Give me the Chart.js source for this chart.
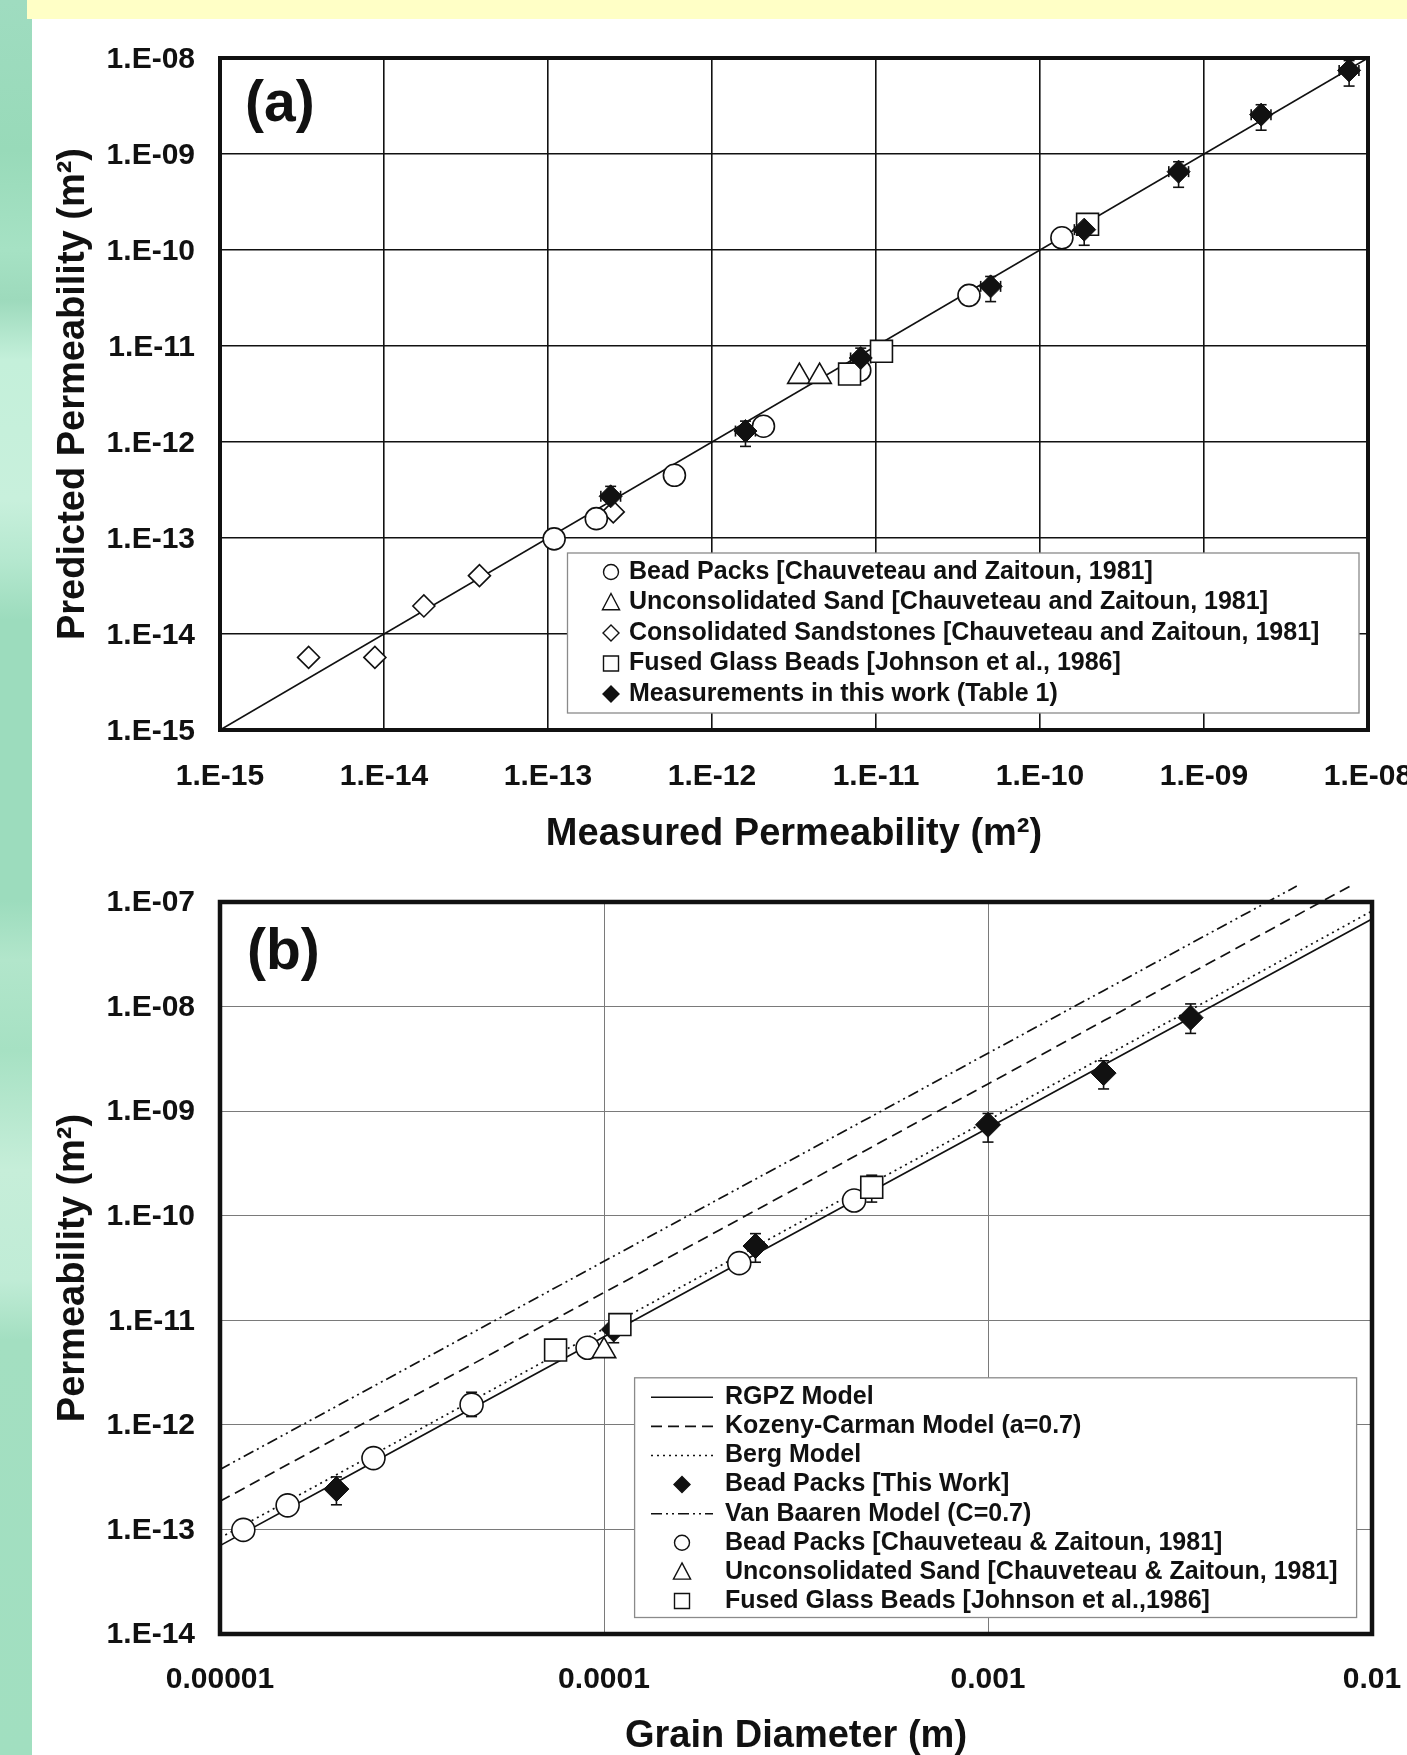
<!DOCTYPE html>
<html>
<head>
<meta charset="utf-8">
<script src="https://cdn.jsdelivr.net/npm/chart.js@4.4.1/dist/chart.umd.min.js"></script>
<style>
  html, body { margin: 0; padding: 0; background: #fff; }
  body { width: 1407px; height: 1755px; overflow: hidden; position: relative; }
  #strip {
    position: absolute; left: 0; top: 0; width: 32px; height: 1755px;
    background: linear-gradient(to bottom, #9fdcc0 0px, #98dab9 150px, #a6e2c4 250px, #9ddabc 300px,
      #c4f0da 360px, #c8f0dc 500px, #b5e8cf 560px, #9cdcbd 620px, #9cdcbd 900px, #b2e6cb 960px,
      #a6e1c3 1050px, #c6eed9 1170px, #c0ecd6 1280px, #a3dfc1 1340px, #a1dfc0 1755px);
  }
  #band { position: absolute; left: 27px; top: 0; width: 1380px; height: 19px; background: #ffffc6; }
  canvas { position: absolute; left: 0; }
  #chartA { top: 20px; }
  #chartB { top: 880px; }
</style>
</head>
<body>
<div id="strip"></div>
<div id="band"></div>
<canvas id="chartA" width="1407" height="860"></canvas>
<canvas id="chartB" width="1407" height="900"></canvas>
<script>
// ---- panel (a): predicted vs measured permeability (m^2) ----
const decadesA = [1e-15, 1e-14, 1e-13, 1e-12, 1e-11, 1e-10, 1e-9, 1e-8];
const tickLabelsA = ['1.E-15', '1.E-14', '1.E-13', '1.E-12', '1.E-11', '1.E-10', '1.E-09', '1.E-08'];

const oneToOneX = [1e-15, 1e-8];
const oneToOneY = [1e-15, 1e-8];

const beadX = [1.09e-13, 1.97e-13, 5.9e-13, 2.06e-12, 7.96e-12, 3.69e-11, 1.36e-10];
const beadY = [9.8e-14, 1.59e-13, 4.5e-13, 1.46e-12, 5.57e-12, 3.37e-11, 1.34e-10];
const sandX = [3.41e-12, 4.53e-12];
const sandY = [4.8e-12, 4.8e-12];
const stoneX = [3.47e-15, 8.8e-15, 1.75e-14, 3.82e-14, 2.5e-13];
const stoneY = [5.7e-15, 5.7e-15, 1.96e-14, 4.05e-14, 1.87e-13];
const fusedX = [6.9e-12, 1.08e-11, 1.95e-10];
const fusedY = [5.1e-12, 8.8e-12, 1.85e-10];
const measX = [2.41e-13, 1.6e-12, 8.07e-12, 5.0e-11, 1.86e-10, 7.0e-10, 2.23e-9, 7.67e-9];
const measY = [2.72e-13, 1.3e-12, 7.5e-12, 4.18e-11, 1.63e-10, 6.55e-10, 2.57e-9, 7.43e-9];
const measYLo = [1.88e-13, 9.0e-13, 5.2e-12, 2.9e-11, 1.12e-10, 4.5e-10, 1.77e-9, 5.1e-9];
const measYHi = [3.45e-13, 1.65e-12, 9.5e-12, 5.3e-11, 2.07e-10, 8.3e-10, 3.26e-9, 9.4e-9];
const measXLo = [2.1e-13, 1.39e-12, 7.0e-12, 4.35e-11, 1.62e-10, 6.1e-10, 1.94e-9, 6.67e-9];
const measXHi = [2.77e-13, 1.84e-12, 9.3e-12, 5.75e-11, 2.14e-10, 8.05e-10, 2.56e-9, 8.8e-9];

// ---- panel (b): permeability vs grain diameter ----
const decadesBy = [1e-14, 1e-13, 1e-12, 1e-11, 1e-10, 1e-9, 1e-8, 1e-7];
const tickLabelsBy = ['1.E-14', '1.E-13', '1.E-12', '1.E-11', '1.E-10', '1.E-09', '1.E-08', '1.E-07'];
const decadesBx = [1e-5, 1e-4, 1e-3, 1e-2];
const tickLabelsBx = ['0.00001', '0.0001', '0.001', '0.01'];

const modelD = [1e-5, 2e-5, 5e-5, 1e-4, 2e-4, 5e-4, 1e-3, 2e-3, 5e-3, 1e-2];
const rgpzK = [7.0e-14, 2.8e-13, 1.75e-12, 6.97e-12, 2.78e-11, 1.73e-10, 6.9e-10, 2.76e-9, 1.72e-8, 6.86e-8];
const bergK = [8.3e-14, 3.3e-13, 2.07e-12, 8.3e-12, 3.3e-11, 2.06e-10, 8.2e-10, 3.3e-9, 2.04e-8, 8.2e-8];
const kozenyD = [1e-5, 2e-5, 5e-5, 1e-4, 2e-4, 5e-4, 1e-3, 2e-3, 8.77e-3];
const kozenyK = [1.86e-13, 7.4e-13, 4.6e-12, 1.84e-11, 7.3e-11, 4.57e-10, 1.82e-9, 7.3e-9, 1.42e-7];
const baarenD = [1e-5, 2e-5, 5e-5, 1e-4, 2e-4, 5e-4, 1e-3, 2e-3, 6.37e-3];
const baarenK = [3.75e-13, 1.49e-12, 9.2e-12, 3.66e-11, 1.46e-10, 9.0e-10, 3.58e-9, 1.42e-8, 1.42e-7];

const thisD = [2.01e-5, 1.06e-4, 2.48e-4, 1.0e-3, 2.0e-3, 3.37e-3];
const thisK = [2.43e-13, 8.17e-12, 5.13e-11, 7.41e-10, 2.31e-9, 7.83e-9];
const thisKLo = [1.72e-13, 6.1e-12, 3.59e-11, 5.06e-10, 1.63e-9, 5.54e-9];
const thisKHi = [3.18e-13, 1.0e-11, 6.74e-11, 9.5e-10, 3.03e-9, 1.06e-8];
const chauD = [1.15e-5, 1.50e-5, 2.51e-5, 4.52e-5, 9.06e-5, 2.25e-4, 4.48e-4];
const chauK = [9.9e-14, 1.70e-13, 4.81e-13, 1.56e-12, 5.47e-12, 3.52e-11, 1.40e-10];
const chauKLo = [null, null, null, 1.2e-12, null, null, null];
const chauKHi = [null, null, null, 2.05e-12, null, null, null];
const unconsD = [1.0e-4];
const unconsK = [5.1e-12];
const glassD = [7.48e-5, 1.10e-4, 4.98e-4];
const glassK = [5.19e-12, 9.1e-12, 1.87e-10];
const glassKLo = [null, null, 1.35e-10];
const glassKHi = [null, null, 2.44e-10];

const FONT = "'Liberation Sans', Arial, sans-serif";
const INK = '#111';
Chart.defaults.font.family = FONT;
Chart.defaults.font.weight = 'bold';
Chart.defaults.color = INK;

const pts = (xs, ys) => xs.map((x, i) => ({ x, y: ys[i] }));

function drawMarker(ctx, style, x, y, r) {
  ctx.beginPath();
  if (style === 'circle') ctx.arc(x, y, r, 0, Math.PI * 2);
  else if (style === 'rect') ctx.rect(x - r, y - r, 2 * r, 2 * r);
  else if (style === 'rectRot') { ctx.moveTo(x, y - r); ctx.lineTo(x + r, y); ctx.lineTo(x, y + r); ctx.lineTo(x - r, y); ctx.closePath(); }
  else if (style === 'triangle') { ctx.moveTo(x, y - r); ctx.lineTo(x + r * 0.95, y + r * 0.8); ctx.lineTo(x - r * 0.95, y + r * 0.8); ctx.closePath(); }
}

// thick box round the plot area, drawn over the grid
const frame = {
  id: 'frame',
  beforeDatasetsDraw(chart, args, o) {
    const { ctx, chartArea: a } = chart;
    ctx.save();
    ctx.strokeStyle = INK;
    ctx.lineWidth = o.width;
    ctx.strokeRect(a.left, a.top, a.right - a.left, a.bottom - a.top);
    ctx.restore();
  }
};

// error bars with caps, read from yLo/yHi and xLo/xHi on the dataset
const errorBars = {
  id: 'errorBars',
  beforeDatasetsDraw(chart) {
    const { ctx, scales: { x, y } } = chart;
    const seg = (x0, y0, x1, y1) => { ctx.beginPath(); ctx.moveTo(x0, y0); ctx.lineTo(x1, y1); ctx.stroke(); };
    ctx.save();
    ctx.strokeStyle = INK;
    ctx.lineWidth = 1.6;
    chart.data.datasets.forEach(ds => {
      ds.data.forEach((p, i) => {
        const px = x.getPixelForValue(p.x), py = y.getPixelForValue(p.y);
        if (ds.yLo && ds.yLo[i] != null) {
          const t = y.getPixelForValue(ds.yHi[i]), b = y.getPixelForValue(ds.yLo[i]);
          seg(px, t, px, b); seg(px - 5.5, t, px + 5.5, t); seg(px - 5.5, b, px + 5.5, b);
        }
        if (ds.xLo && ds.xLo[i] != null) {
          const l = x.getPixelForValue(ds.xLo[i]), r = x.getPixelForValue(ds.xHi[i]);
          seg(l, py, r, py); seg(l, py - 5.5, l, py + 5.5); seg(r, py - 5.5, r, py + 5.5);
        }
      });
    });
    ctx.restore();
  }
};

// boxed legend placed inside the plot, rows in dataset order
const boxLegend = {
  id: 'boxLegend',
  afterDraw(chart, args, o) {
    const ctx = chart.ctx;
    ctx.save();
    ctx.fillStyle = '#fff';
    ctx.fillRect(o.x, o.y, o.w, o.h);
    ctx.strokeStyle = '#8a8a8a';
    ctx.lineWidth = 1.3;
    ctx.strokeRect(o.x, o.y, o.w, o.h);
    ctx.font = `bold ${o.size}px ${FONT}`;
    ctx.textBaseline = 'middle';
    let row = 0;
    chart.data.datasets.forEach(ds => {
      if (ds.noLegend) return;
      const cy = o.rowY0 + row * o.rowH;
      ctx.strokeStyle = INK;
      if (ds.showLine) {
        ctx.lineWidth = 1.6;
        ctx.setLineDash(ds.borderDash || []);
        ctx.beginPath(); ctx.moveTo(o.lineX0, cy); ctx.lineTo(o.lineX1, cy); ctx.stroke();
        ctx.setLineDash([]);
      } else {
        ctx.lineWidth = 1.4;
        ctx.fillStyle = ds.backgroundColor;
        drawMarker(ctx, ds.pointStyle, o.symX, cy, ds.legendR);
        ctx.fill(); ctx.stroke();
      }
      ctx.fillStyle = INK;
      ctx.fillText(ds.label, o.textX, cy);
      row++;
    });
    ctx.restore();
  }
};

const panelLabel = {
  id: 'panelLabel',
  afterDraw(chart, args, o) {
    const ctx = chart.ctx;
    ctx.save();
    ctx.font = `bold 57px ${FONT}`;
    ctx.fillStyle = INK;
    ctx.textBaseline = 'alphabetic';
    ctx.fillText(o.text, o.x, o.y);
    ctx.restore();
  }
};

function decadeAxis(ticks, labels, title, labelPad, titlePad, grid, fit, labelOffset) {
  return {
    type: 'logarithmic',
    min: ticks[0], max: ticks[ticks.length - 1],
    afterBuildTicks: s => { s.ticks = ticks.map(v => ({ value: v })); },
    afterFit: fit,
    ticks: { callback: (v, i) => labels[i], font: { size: 30, weight: 'bold' }, padding: labelPad, labelOffset: labelOffset || 0,
      autoSkip: false, maxRotation: 0, minRotation: 0, color: INK },
    grid: Object.assign({ drawTicks: false }, grid),
    border: { display: false },
    title: { display: true, text: title, font: { size: 38, weight: 'bold' }, padding: titlePad, color: INK }
  };
}
const fitX = h => s => { s.height = h; s.paddingLeft = 0; s.paddingRight = 0; };
const fitY = s => { s.width = 220; s.paddingTop = 0; s.paddingBottom = 0; };

const hollow = (label, xs, ys, style, r, legendR, order) => ({
  label, data: pts(xs, ys), pointStyle: style, pointRadius: r, pointHoverRadius: r,
  backgroundColor: '#fff', borderColor: INK, borderWidth: 1.6, legendR, order
});
const filled = (label, xs, ys, r, legendR, order) => ({
  label, data: pts(xs, ys), pointStyle: 'rectRot', pointRadius: r, pointHoverRadius: r,
  backgroundColor: INK, borderColor: INK, borderWidth: 1, legendR, order
});
const curve = (label, xs, ys, dash, order) => ({
  label, data: pts(xs, ys), showLine: true, borderColor: INK, borderWidth: 1.7, borderDash: dash,
  pointRadius: 0, pointHoverRadius: 0, tension: 0, clip: false, order
});

// ---- chart (a) ----
const oneToOne = curve('1:1', oneToOneX, oneToOneY, [], 10);
oneToOne.noLegend = true;
oneToOne.borderWidth = 1.5;
const measSet = filled('Measurements in this work (Table 1)', measX, measY, 11.5, 8, 1);
measSet.yLo = measYLo; measSet.yHi = measYHi; measSet.xLo = measXLo; measSet.xHi = measXHi;

new Chart(document.getElementById('chartA'), {
  type: 'scatter',
  data: {
    datasets: [
      oneToOne,
      hollow('Bead Packs [Chauveteau and Zaitoun, 1981]', beadX, beadY, 'circle', 11, 7.5, 4),
      hollow('Unconsolidated Sand [Chauveteau and Zaitoun, 1981]', sandX, sandY, 'triangle', 13.5, 9, 3),
      hollow('Consolidated Sandstones [Chauveteau and Zaitoun, 1981]', stoneX, stoneY, 'rectRot', 11, 8, 5),
      hollow('Fused Glass Beads [Johnson et al., 1986]', fusedX, fusedY, 'rect', 15.5, 7.5, 2),
      measSet
    ]
  },
  options: {
    responsive: false, animation: false,
    layout: { padding: { left: 0, right: 39, top: 38, bottom: 0 } },
    scales: {
      x: decadeAxis(decadesA, tickLabelsA, 'Measured Permeability (m²)', 29, { top: 0, bottom: 23 }, { color: INK, lineWidth: 1.6 }, fitX(150)),
      y: decadeAxis(decadesA, tickLabelsA, 'Predicted Permeability (m²)', 25, { top: 51, bottom: 0 }, { color: INK, lineWidth: 1.6 }, fitY, 2)
    },
    plugins: {
      legend: { display: false },
      tooltip: { enabled: false },
      frame: { width: 4 },
      boxLegend: { x: 567.5, y: 533, w: 791.5, h: 160, rowY0: 552, rowH: 30.5, symX: 611, lineX0: 596, lineX1: 626, textX: 629, size: 25 },
      panelLabel: { text: '(a)', x: 245, y: 101 }
    }
  },
  plugins: [frame, errorBars, boxLegend, panelLabel]
});

// ---- chart (b) ----
const thisSet = filled('Bead Packs [This Work]', thisD, thisK, 12.5, 8, 3);
thisSet.yLo = thisKLo; thisSet.yHi = thisKHi;
const chauSet = hollow('Bead Packs [Chauveteau & Zaitoun, 1981]', chauD, chauK, 'circle', 11.5, 7.5, 4);
chauSet.yLo = chauKLo; chauSet.yHi = chauKHi;
const glassSet = hollow('Fused Glass Beads [Johnson et al.,1986]', glassD, glassK, 'rect', 15.5, 7.5, 1);
glassSet.yLo = glassKLo; glassSet.yHi = glassKHi;

new Chart(document.getElementById('chartB'), {
  type: 'scatter',
  data: {
    datasets: [
      curve('RGPZ Model', modelD, rgpzK, [], 10),
      curve('Kozeny-Carman Model (a=0.7)', kozenyD, kozenyK, [11, 6], 11),
      curve('Berg Model', modelD, bergK, [2, 4], 12),
      thisSet,
      curve('Van Baaren Model (C=0.7)', baarenD, baarenK, [11, 4, 2, 4, 2, 4], 13),
      chauSet,
      hollow('Unconsolidated Sand [Chauveteau & Zaitoun, 1981]', unconsD, unconsK, 'triangle', 13.5, 9, 2),
      glassSet
    ]
  },
  options: {
    responsive: false, animation: false,
    layout: { padding: { left: 0, right: 35, top: 22, bottom: 0 } },
    scales: {
      x: decadeAxis(decadesBx, tickLabelsBx, 'Grain Diameter (m)', 28, { top: 0, bottom: 21 }, { color: '#7a7a7a', lineWidth: 1 }, fitX(146)),
      y: decadeAxis(decadesBy, tickLabelsBy, 'Permeability (m²)', 25, { top: 51, bottom: 0 }, { color: '#7a7a7a', lineWidth: 1 }, fitY, 1)
    },
    plugins: {
      legend: { display: false },
      tooltip: { enabled: false },
      frame: { width: 4.5 },
      boxLegend: { x: 634.6, y: 497.8, w: 722, h: 239.7, rowY0: 517.3, rowH: 29.1, symX: 682, lineX0: 651, lineX1: 713, textX: 725, size: 25 },
      panelLabel: { text: '(b)', x: 247, y: 89 }
    }
  },
  plugins: [frame, errorBars, boxLegend, panelLabel]
});
</script>
</body>
</html>
